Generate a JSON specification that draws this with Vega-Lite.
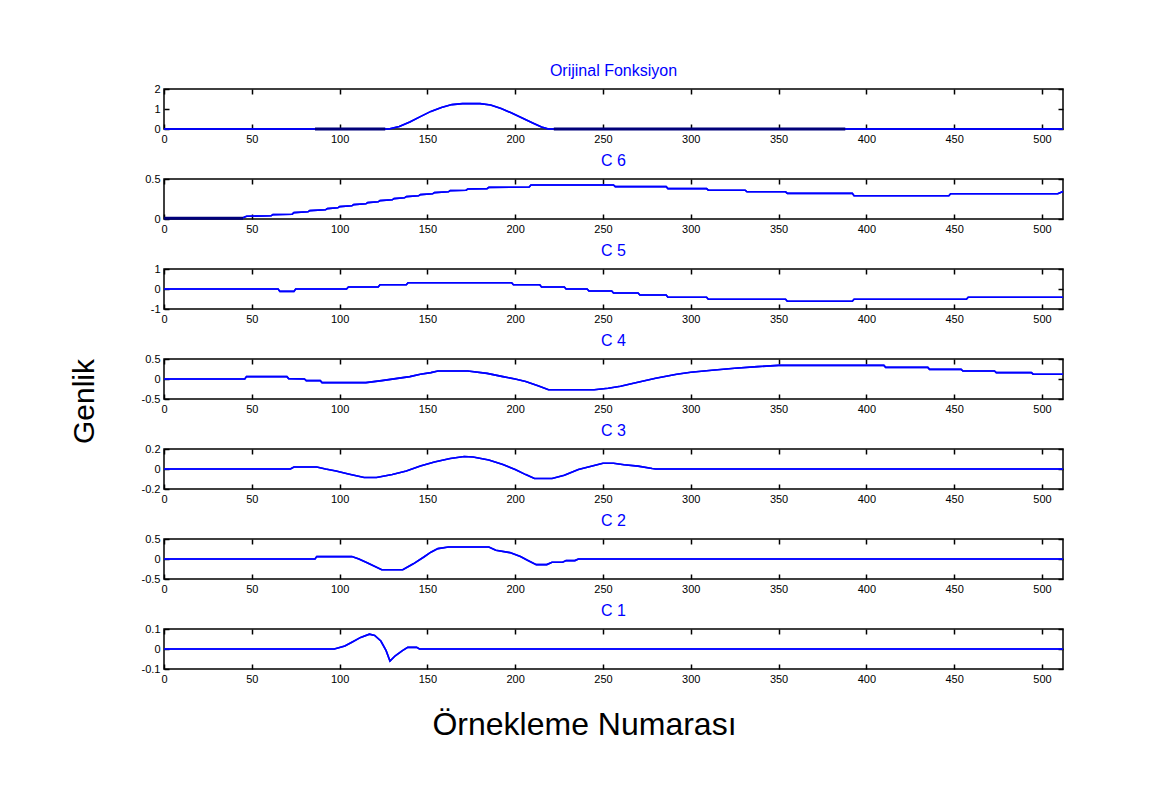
{
  "$schema": "https://vega.github.io/schema/vega-lite/v6.json",
  "background": "white",
  "padding": {"left": 70, "top": 62, "right": 5, "bottom": 5},
  "title": {"text": "Genlik", "orient": "left", "fontSize": 30, "fontWeight": "normal", "font": "Liberation Sans", "color": "#000000", "anchor": "middle", "frame": "bounds", "offset": 40},
  "config": {
    "view": {"stroke": "#000000", "strokeWidth": 1.5},
    "axis": {"domain": false, "grid": false, "tickColor": "#000000", "tickWidth": 1.5, "tickSize": -5, "labelFont": "Liberation Sans", "labelFontSize": 11, "labelColor": "#000000", "labelFlush": false, "labelOverlap": false, "labelBound": false, "labelPadding": 9, "title": null},
    "title": {"font": "Liberation Sans", "fontSize": 16, "fontWeight": "normal", "color": "#0000FF", "anchor": "middle", "frame": "group", "offset": 4}
  },
  "spacing": 7,
  "datasets": {
    "orig": [
      {"x": 0, "y": 0}, {"x": 128, "y": 0}, {"x": 134, "y": 0.12}, {"x": 140, "y": 0.35}, {"x": 146, "y": 0.62}, {"x": 152, "y": 0.88}, {"x": 158, "y": 1.08}, {"x": 164, "y": 1.22}, {"x": 170, "y": 1.27}, {"x": 180, "y": 1.27}, {"x": 186, "y": 1.2}, {"x": 192, "y": 1.02}, {"x": 198, "y": 0.8}, {"x": 204, "y": 0.55}, {"x": 210, "y": 0.3}, {"x": 215, "y": 0.1}, {"x": 219, "y": 0}, {"x": 512, "y": 0}
    ],
    "origDark": [
      {"x": 86, "x2": 126, "y": 0}, {"x": 222, "x2": 388, "y": 0}
    ],
    "c6": [
      {"x": 0, "y": 0.01}, {"x": 45, "y": 0.015}, {"x": 47, "y": 0.035}, {"x": 61, "y": 0.04}, {"x": 62, "y": 0.055}, {"x": 73, "y": 0.06}, {"x": 74, "y": 0.08}, {"x": 82, "y": 0.09}, {"x": 83, "y": 0.105}, {"x": 92, "y": 0.115}, {"x": 93, "y": 0.13}, {"x": 99, "y": 0.14}, {"x": 100, "y": 0.155}, {"x": 107, "y": 0.165}, {"x": 108, "y": 0.18}, {"x": 115, "y": 0.19}, {"x": 116, "y": 0.205}, {"x": 122, "y": 0.215}, {"x": 123, "y": 0.23}, {"x": 130, "y": 0.24}, {"x": 131, "y": 0.255}, {"x": 137, "y": 0.265}, {"x": 138, "y": 0.28}, {"x": 145, "y": 0.29}, {"x": 146, "y": 0.305}, {"x": 153, "y": 0.315}, {"x": 154, "y": 0.33}, {"x": 162, "y": 0.34}, {"x": 163, "y": 0.355}, {"x": 172, "y": 0.36}, {"x": 173, "y": 0.375}, {"x": 184, "y": 0.38}, {"x": 185, "y": 0.395}, {"x": 208, "y": 0.4}, {"x": 209, "y": 0.425}, {"x": 256, "y": 0.425}, {"x": 257, "y": 0.405}, {"x": 286, "y": 0.405}, {"x": 287, "y": 0.38}, {"x": 309, "y": 0.38}, {"x": 310, "y": 0.36}, {"x": 331, "y": 0.36}, {"x": 332, "y": 0.34}, {"x": 354, "y": 0.34}, {"x": 355, "y": 0.32}, {"x": 392, "y": 0.32}, {"x": 393, "y": 0.29}, {"x": 447, "y": 0.29}, {"x": 448, "y": 0.315}, {"x": 509, "y": 0.315}, {"x": 512, "y": 0.345}
    ],
    "c6Dark": [
      {"x": 0, "x2": 45, "y": 0.01}
    ],
    "c5": [
      {"x": 0, "y": 0}, {"x": 65, "y": 0}, {"x": 66, "y": -0.12}, {"x": 74, "y": -0.12}, {"x": 75, "y": 0}, {"x": 104, "y": 0}, {"x": 105, "y": 0.1}, {"x": 122, "y": 0.1}, {"x": 123, "y": 0.21}, {"x": 138, "y": 0.21}, {"x": 139, "y": 0.31}, {"x": 198, "y": 0.31}, {"x": 199, "y": 0.21}, {"x": 214, "y": 0.21}, {"x": 215, "y": 0.1}, {"x": 228, "y": 0.1}, {"x": 229, "y": 0}, {"x": 241, "y": 0}, {"x": 242, "y": -0.1}, {"x": 255, "y": -0.1}, {"x": 256, "y": -0.2}, {"x": 270, "y": -0.2}, {"x": 271, "y": -0.3}, {"x": 286, "y": -0.3}, {"x": 287, "y": -0.41}, {"x": 309, "y": -0.41}, {"x": 310, "y": -0.51}, {"x": 354, "y": -0.51}, {"x": 355, "y": -0.61}, {"x": 392, "y": -0.61}, {"x": 393, "y": -0.51}, {"x": 457, "y": -0.51}, {"x": 458, "y": -0.41}, {"x": 512, "y": -0.41}
    ],
    "c4": [
      {"x": 0, "y": 0}, {"x": 46, "y": 0}, {"x": 47, "y": 0.06}, {"x": 70, "y": 0.06}, {"x": 71, "y": 0.01}, {"x": 80, "y": 0.0}, {"x": 81, "y": -0.04}, {"x": 89, "y": -0.04}, {"x": 90, "y": -0.09}, {"x": 115, "y": -0.09}, {"x": 124, "y": -0.04}, {"x": 132, "y": 0.01}, {"x": 140, "y": 0.06}, {"x": 146, "y": 0.12}, {"x": 152, "y": 0.16}, {"x": 156, "y": 0.2}, {"x": 173, "y": 0.2}, {"x": 184, "y": 0.14}, {"x": 193, "y": 0.06}, {"x": 200, "y": 0}, {"x": 206, "y": -0.06}, {"x": 213, "y": -0.17}, {"x": 219, "y": -0.27}, {"x": 245, "y": -0.27}, {"x": 253, "y": -0.23}, {"x": 260, "y": -0.18}, {"x": 268, "y": -0.1}, {"x": 280, "y": 0.02}, {"x": 292, "y": 0.12}, {"x": 300, "y": 0.17}, {"x": 312, "y": 0.22}, {"x": 325, "y": 0.27}, {"x": 338, "y": 0.31}, {"x": 350, "y": 0.34}, {"x": 410, "y": 0.34}, {"x": 411, "y": 0.29}, {"x": 435, "y": 0.29}, {"x": 436, "y": 0.24}, {"x": 454, "y": 0.24}, {"x": 455, "y": 0.2}, {"x": 473, "y": 0.2}, {"x": 474, "y": 0.16}, {"x": 494, "y": 0.16}, {"x": 495, "y": 0.12}, {"x": 512, "y": 0.12}
    ],
    "c3": [
      {"x": 0, "y": 0}, {"x": 72, "y": 0}, {"x": 74, "y": 0.02}, {"x": 87, "y": 0.02}, {"x": 92, "y": 0}, {"x": 98, "y": -0.02}, {"x": 105, "y": -0.05}, {"x": 114, "y": -0.085}, {"x": 121, "y": -0.085}, {"x": 130, "y": -0.055}, {"x": 138, "y": -0.02}, {"x": 146, "y": 0.03}, {"x": 154, "y": 0.07}, {"x": 163, "y": 0.105}, {"x": 171, "y": 0.125}, {"x": 176, "y": 0.12}, {"x": 185, "y": 0.09}, {"x": 193, "y": 0.046}, {"x": 200, "y": -0.005}, {"x": 206, "y": -0.056}, {"x": 211, "y": -0.095}, {"x": 221, "y": -0.095}, {"x": 228, "y": -0.063}, {"x": 236, "y": -0.005}, {"x": 245, "y": 0.036}, {"x": 250, "y": 0.058}, {"x": 256, "y": 0.058}, {"x": 262, "y": 0.043}, {"x": 270, "y": 0.029}, {"x": 278, "y": 0.005}, {"x": 280, "y": 0}, {"x": 512, "y": 0}
    ],
    "c2": [
      {"x": 0, "y": 0}, {"x": 86, "y": 0}, {"x": 87, "y": 0.06}, {"x": 107, "y": 0.06}, {"x": 111, "y": 0}, {"x": 116, "y": -0.1}, {"x": 124, "y": -0.27}, {"x": 136, "y": -0.27}, {"x": 142, "y": -0.12}, {"x": 148, "y": 0.05}, {"x": 152, "y": 0.17}, {"x": 156, "y": 0.26}, {"x": 162, "y": 0.3}, {"x": 185, "y": 0.3}, {"x": 189, "y": 0.22}, {"x": 197, "y": 0.16}, {"x": 203, "y": 0.06}, {"x": 207, "y": -0.03}, {"x": 212, "y": -0.14}, {"x": 218, "y": -0.14}, {"x": 221, "y": -0.08}, {"x": 227, "y": -0.08}, {"x": 229, "y": -0.04}, {"x": 234, "y": -0.04}, {"x": 236, "y": 0}, {"x": 512, "y": 0}
    ],
    "c1": [
      {"x": 0, "y": 0}, {"x": 97, "y": 0}, {"x": 99, "y": 0.005}, {"x": 103, "y": 0.015}, {"x": 107, "y": 0.034}, {"x": 112, "y": 0.058}, {"x": 117, "y": 0.074}, {"x": 120, "y": 0.068}, {"x": 123.5, "y": 0.04}, {"x": 126.5, "y": -0.008}, {"x": 128.7, "y": -0.06}, {"x": 131.7, "y": -0.034}, {"x": 135.8, "y": -0.008}, {"x": 138.8, "y": 0.008}, {"x": 143.9, "y": 0.008}, {"x": 145.5, "y": 0}, {"x": 512, "y": 0}
    ]
  },
  "vconcat": [
    {
      "title": {"text": "Orijinal Fonksiyon"},
      "width": 899, "height": 40,
      "resolve": {"axis": {"x": "independent", "y": "independent"}},
      "layer": [
        {"data": {"name": "orig"}, "mark": {"type": "line", "color": "#0000FF", "strokeWidth": 1.6},
         "encoding": {
           "x": {"field": "x", "type": "quantitative", "scale": {"domain": [0, 512], "nice": false, "zero": false}, "axis": {"orient": "bottom", "values": [0,50,100,150,200,250,300,350,400,450,500]}},
           "y": {"field": "y", "type": "quantitative", "scale": {"domain": [0, 2], "nice": false}, "axis": {"orient": "left", "values": [0,1,2], "format": "~g", "labelExpr": "replace(datum.label, '\u2212', '-')"}}}},
        {"data": {"name": "orig"}, "mark": {"type": "line", "color": "#0000FF", "strokeWidth": 1.6},
         "encoding": {
           "x": {"field": "x", "type": "quantitative", "axis": {"orient": "top", "labels": false, "values": [0,50,100,150,200,250,300,350,400,450,500]}},
           "y": {"field": "y", "type": "quantitative", "axis": {"orient": "right", "labels": false, "values": [0,1,2]}}}},
        {"data": {"name": "origDark"}, "mark": {"type": "rule", "color": "#00007A", "strokeWidth": 3},
         "encoding": {"x": {"field": "x", "type": "quantitative", "axis": null}, "x2": {"field": "x2"}, "y": {"field": "y", "type": "quantitative", "axis": null}}}
      ]
    },
    {
      "title": {"text": "C 6"},
      "width": 899, "height": 40,
      "resolve": {"axis": {"x": "independent", "y": "independent"}},
      "layer": [
        {"data": {"name": "c6"}, "mark": {"type": "line", "color": "#0000FF", "strokeWidth": 1.6},
         "encoding": {
           "x": {"field": "x", "type": "quantitative", "scale": {"domain": [0, 512], "nice": false, "zero": false}, "axis": {"orient": "bottom", "values": [0,50,100,150,200,250,300,350,400,450,500]}},
           "y": {"field": "y", "type": "quantitative", "scale": {"domain": [0, 0.5], "nice": false}, "axis": {"orient": "left", "values": [0,0.5], "format": "~g", "labelExpr": "replace(datum.label, '\u2212', '-')"}}}},
        {"data": {"name": "c6"}, "mark": {"type": "line", "color": "#0000FF", "strokeWidth": 1.6},
         "encoding": {
           "x": {"field": "x", "type": "quantitative", "axis": {"orient": "top", "labels": false, "values": [0,50,100,150,200,250,300,350,400,450,500]}},
           "y": {"field": "y", "type": "quantitative", "axis": {"orient": "right", "labels": false, "values": [0,0.5]}}}},
        {"data": {"name": "c6Dark"}, "mark": {"type": "rule", "color": "#00007A", "strokeWidth": 3},
         "encoding": {"x": {"field": "x", "type": "quantitative", "axis": null}, "x2": {"field": "x2"}, "y": {"field": "y", "type": "quantitative", "axis": null}}}
      ]
    },
    {
      "title": {"text": "C 5"},
      "width": 899, "height": 40,
      "resolve": {"axis": {"x": "independent", "y": "independent"}},
      "layer": [
        {"data": {"name": "c5"}, "mark": {"type": "line", "color": "#0000FF", "strokeWidth": 1.6},
         "encoding": {
           "x": {"field": "x", "type": "quantitative", "scale": {"domain": [0, 512], "nice": false, "zero": false}, "axis": {"orient": "bottom", "values": [0,50,100,150,200,250,300,350,400,450,500]}},
           "y": {"field": "y", "type": "quantitative", "scale": {"domain": [-1, 1], "nice": false}, "axis": {"orient": "left", "values": [-1,0,1], "format": "~g", "labelExpr": "replace(datum.label, '\u2212', '-')"}}}},
        {"data": {"name": "c5"}, "mark": {"type": "line", "color": "#0000FF", "strokeWidth": 1.6},
         "encoding": {
           "x": {"field": "x", "type": "quantitative", "axis": {"orient": "top", "labels": false, "values": [0,50,100,150,200,250,300,350,400,450,500]}},
           "y": {"field": "y", "type": "quantitative", "axis": {"orient": "right", "labels": false, "values": [-1,0,1]}}}}
      ]
    },
    {
      "title": {"text": "C 4"},
      "width": 899, "height": 40,
      "resolve": {"axis": {"x": "independent", "y": "independent"}},
      "layer": [
        {"data": {"name": "c4"}, "mark": {"type": "line", "color": "#0000FF", "strokeWidth": 1.6},
         "encoding": {
           "x": {"field": "x", "type": "quantitative", "scale": {"domain": [0, 512], "nice": false, "zero": false}, "axis": {"orient": "bottom", "values": [0,50,100,150,200,250,300,350,400,450,500]}},
           "y": {"field": "y", "type": "quantitative", "scale": {"domain": [-0.5, 0.5], "nice": false}, "axis": {"orient": "left", "values": [-0.5,0,0.5], "format": "~g", "labelExpr": "replace(datum.label, '\u2212', '-')"}}}},
        {"data": {"name": "c4"}, "mark": {"type": "line", "color": "#0000FF", "strokeWidth": 1.6},
         "encoding": {
           "x": {"field": "x", "type": "quantitative", "axis": {"orient": "top", "labels": false, "values": [0,50,100,150,200,250,300,350,400,450,500]}},
           "y": {"field": "y", "type": "quantitative", "axis": {"orient": "right", "labels": false, "values": [-0.5,0,0.5]}}}}
      ]
    },
    {
      "title": {"text": "C 3"},
      "width": 899, "height": 40,
      "resolve": {"axis": {"x": "independent", "y": "independent"}},
      "layer": [
        {"data": {"name": "c3"}, "mark": {"type": "line", "color": "#0000FF", "strokeWidth": 1.6},
         "encoding": {
           "x": {"field": "x", "type": "quantitative", "scale": {"domain": [0, 512], "nice": false, "zero": false}, "axis": {"orient": "bottom", "values": [0,50,100,150,200,250,300,350,400,450,500]}},
           "y": {"field": "y", "type": "quantitative", "scale": {"domain": [-0.2, 0.2], "nice": false}, "axis": {"orient": "left", "values": [-0.2,0,0.2], "format": "~g", "labelExpr": "replace(datum.label, '\u2212', '-')"}}}},
        {"data": {"name": "c3"}, "mark": {"type": "line", "color": "#0000FF", "strokeWidth": 1.6},
         "encoding": {
           "x": {"field": "x", "type": "quantitative", "axis": {"orient": "top", "labels": false, "values": [0,50,100,150,200,250,300,350,400,450,500]}},
           "y": {"field": "y", "type": "quantitative", "axis": {"orient": "right", "labels": false, "values": [-0.2,0,0.2]}}}}
      ]
    },
    {
      "title": {"text": "C 2"},
      "width": 899, "height": 40,
      "resolve": {"axis": {"x": "independent", "y": "independent"}},
      "layer": [
        {"data": {"name": "c2"}, "mark": {"type": "line", "color": "#0000FF", "strokeWidth": 1.6},
         "encoding": {
           "x": {"field": "x", "type": "quantitative", "scale": {"domain": [0, 512], "nice": false, "zero": false}, "axis": {"orient": "bottom", "values": [0,50,100,150,200,250,300,350,400,450,500]}},
           "y": {"field": "y", "type": "quantitative", "scale": {"domain": [-0.5, 0.5], "nice": false}, "axis": {"orient": "left", "values": [-0.5,0,0.5], "format": "~g", "labelExpr": "replace(datum.label, '\u2212', '-')"}}}},
        {"data": {"name": "c2"}, "mark": {"type": "line", "color": "#0000FF", "strokeWidth": 1.6},
         "encoding": {
           "x": {"field": "x", "type": "quantitative", "axis": {"orient": "top", "labels": false, "values": [0,50,100,150,200,250,300,350,400,450,500]}},
           "y": {"field": "y", "type": "quantitative", "axis": {"orient": "right", "labels": false, "values": [-0.5,0,0.5]}}}}
      ]
    },
    {
      "title": {"text": "C 1"},
      "width": 899, "height": 40,
      "resolve": {"axis": {"x": "independent", "y": "independent"}},
      "layer": [
        {"data": {"name": "c1"}, "mark": {"type": "line", "color": "#0000FF", "strokeWidth": 1.6},
         "encoding": {
           "x": {"field": "x", "type": "quantitative", "scale": {"domain": [0, 512], "nice": false, "zero": false}, "axis": {"orient": "bottom", "values": [0,50,100,150,200,250,300,350,400,450,500], "title": "Örnekleme Numarası", "titleFont": "Liberation Sans", "titleFontSize": 32, "titleFontWeight": "normal", "titleColor": "#000000", "titlePadding": 25, "titleX": 420}},
           "y": {"field": "y", "type": "quantitative", "scale": {"domain": [-0.1, 0.1], "nice": false}, "axis": {"orient": "left", "values": [-0.1,0,0.1], "format": "~g", "labelExpr": "replace(datum.label, '\u2212', '-')"}}}},
        {"data": {"name": "c1"}, "mark": {"type": "line", "color": "#0000FF", "strokeWidth": 1.6},
         "encoding": {
           "x": {"field": "x", "type": "quantitative", "axis": {"orient": "top", "labels": false, "values": [0,50,100,150,200,250,300,350,400,450,500]}},
           "y": {"field": "y", "type": "quantitative", "axis": {"orient": "right", "labels": false, "values": [-0.1,0,0.1]}}}}
      ]
    }
  ]
}
